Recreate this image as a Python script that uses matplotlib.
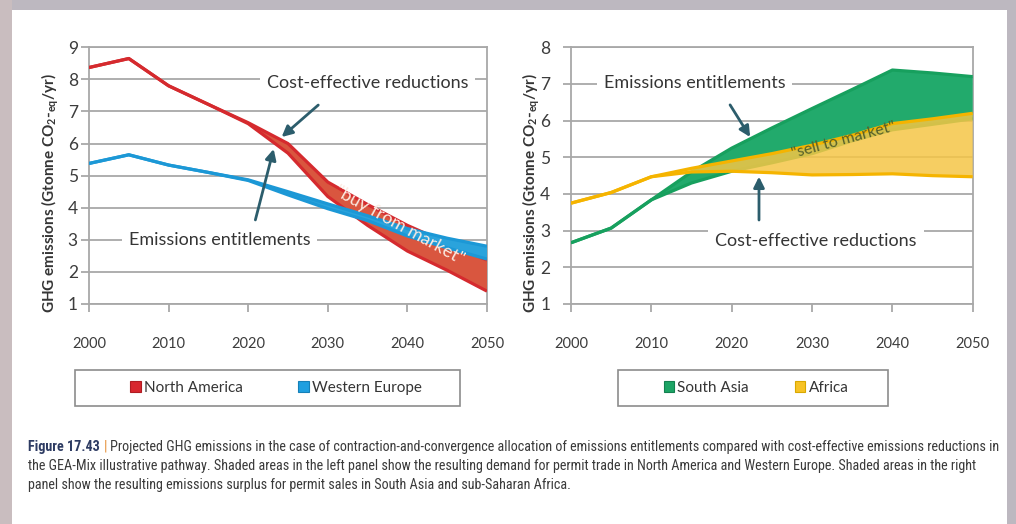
import numpy as np
import matplotlib
matplotlib.use("Agg")
import matplotlib.pyplot as plt
from matplotlib.patches import Rectangle, Patch
from matplotlib import font_manager

# ---------------------------------------------------------------- data
years = [2000, 2005, 2010, 2015, 2020, 2025, 2030, 2035, 2040, 2045, 2050]

# Left panel (Gt CO2-eq/yr): cost-effective pathway vs. entitlements
na_cost_effective = [8.37, 8.65, 7.80, 7.22, 6.65, 6.00, 4.80, 4.10, 3.45, 2.90, 2.37]
na_entitlements   = [8.37, 8.65, 7.80, 7.22, 6.62, 5.70, 4.35, 3.45, 2.65, 2.05, 1.40]
we_cost_effective = [5.38, 5.65, 5.33, 5.10, 4.87, 4.50, 4.12, 3.75, 3.35, 3.05, 2.80]
we_entitlements   = [5.38, 5.65, 5.33, 5.10, 4.85, 4.40, 3.97, 3.60, 3.12, 2.75, 2.40]

# Right panel: entitlements vs. cost-effective pathway
sa_entitlements   = [2.67, 3.07, 3.84, 4.60, 5.25, 5.80, 6.33, 6.85, 7.38, 7.30, 7.20]
sa_cost_effective = [2.67, 3.07, 3.84, 4.30, 4.62, 4.85, 5.10, 5.45, 5.75, 5.90, 6.05]
af_entitlements   = [3.75, 4.04, 4.47, 4.70, 4.90, 5.10, 5.33, 5.60, 5.92, 6.05, 6.20]
af_cost_effective = [3.75, 4.04, 4.47, 4.60, 4.62, 4.58, 4.52, 4.53, 4.55, 4.50, 4.47]

x_ticks = [2000, 2010, 2020, 2030, 2040, 2050]
left_y_ticks = [1, 2, 3, 4, 5, 6, 7, 8, 9]
right_y_ticks = [1, 2, 3, 4, 5, 6, 7, 8]

left_regions = ["North America", "Western Europe"]
right_regions = ["South Asia", "Africa"]

y_label = r"GHG emissions (Gtonne CO$_\mathbf{2}$-$_\mathbf{eq}$/yr)"
caption_head = "Figure 17.43"
caption_bar = "|"
caption_line1 = ("Projected GHG emissions in the case of contraction-and-convergence allocation "
                 "of emissions entitlements compared with cost-effective emissions reductions in")
caption_line2 = ("the GEA-Mix illustrative pathway. Shaded areas in the left panel show the resulting "
                 "demand for permit trade in North America and Western Europe. Shaded areas in the right")
caption_line3 = ("panel show the resulting emissions surplus for permit sales in South Asia "
                 "and sub-Saharan Africa.")

# ---------------------------------------------------------------- style
plt.rcParams["font.family"] = ["Lato", "DejaVu Sans"]
plt.rcParams["mathtext.fontset"] = "custom"
plt.rcParams["mathtext.rm"] = "Lato"
plt.rcParams["mathtext.bf"] = "Lato:bold"
plt.rcParams["mathtext.it"] = "Lato:italic"

RED_LINE, RED_FILL = "#d52a2e", "#d9563f"
BLUE_LINE, BLUE_FILL = "#1c98d6", "#2aa3dc"
GREEN_LINE, GREEN_FILL = "#17a05e", "#22aa6c"
YELLOW_LINE, YELLOW_FILL = "#f5b400", "#f5c646"
GRID = "#a8a8a8"
TEXT = "#353535"
ARROW = "#2c5d6c"

W, H = 1016, 524
fig = plt.figure(figsize=(W / 100, H / 100), dpi=100, facecolor="#bdb8c0")
# page background with a soft edge strip on the left
fig.patches.append(Rectangle((0, 0), 12 / W, 1, transform=fig.transFigure,
                             facecolor="#c9bdbf", edgecolor="none", zorder=-3))
fig.patches.append(Rectangle((12 / W, 0), (1007 - 12) / W, (H - 10) / H,
                             transform=fig.transFigure, facecolor="white",
                             edgecolor="none", zorder=-3))


def px_axes(x0, x1, y0, y1):
    return fig.add_axes([x0 / W, (H - y1) / H, (x1 - x0) / W, (y1 - y0) / H])


def style_axes(ax, yticks, ypad):
    ax.set_xlim(2000, 2050)
    ax.set_ylim(yticks[0], yticks[-1])
    ax.set_xticks(x_ticks)
    ax.set_yticks(yticks)
    ax.patch.set_visible(False)
    ax.grid(axis="y", color=GRID, lw=1.3, zorder=0)
    ax.set_axisbelow(True)
    for s in ax.spines.values():
        s.set_color(GRID)
        s.set_linewidth(1.3)
        s.set_zorder(0.5)
    ax.tick_params(axis="x", length=6, width=1.3, color=GRID, pad=18,
                   labelsize=10.5, labelcolor="#3c3c3c")
    ax.tick_params(axis="y", length=6, width=1.3, color=GRID, pad=ypad,
                   labelsize=12.5, labelcolor="#3c3c3c")


def band(ax, upper, lower, fill, line, alpha=1.0, z=2):
    ax.fill_between(years, lower, upper, facecolor=fill, edgecolor="none",
                    alpha=alpha, zorder=z)
    for series in (upper, lower):
        ax.plot(years, series, color=line, lw=2.3, zorder=z + 0.1,
                solid_joinstyle="round", solid_capstyle="butt")


def label(ax, x, y, s):
    ax.text(x, y, s, ha="center", va="center", fontsize=13, color=TEXT, zorder=6,
            bbox=dict(facecolor="white", edgecolor="none", pad=5))


def arrow(ax, tail, tip):
    ax.annotate("", xy=tip, xytext=tail, zorder=7,
                arrowprops=dict(arrowstyle="-|>", color=ARROW, lw=2.0,
                                mutation_scale=16, shrinkA=0, shrinkB=0))


# ---------------------------------------------------------------- left panel
axl = px_axes(89, 487, 47.3, 304)
style_axes(axl, left_y_ticks, 2)
band(axl, na_cost_effective, na_entitlements, RED_FILL, RED_LINE, z=2)
band(axl, we_cost_effective, we_entitlements, BLUE_FILL, BLUE_LINE, z=3)

label(axl, 2035.0, 7.88, "Cost-effective reductions")
label(axl, 2016.4, 3.0, "Emissions entitlements")
arrow(axl, (2028.8, 7.2), (2024.2, np.interp(2024.2, years, na_cost_effective) + 0.1))
arrow(axl, (2020.9, 3.62), (2023.2, np.interp(2023.2, years, na_entitlements) - 0.2))
axl.text(2039.0, 3.47, "\"buy from market\"", rotation=-29, rotation_mode="anchor",
         ha="center", va="center", fontsize=13, color="#fbebe2", zorder=8)

# ---------------------------------------------------------------- right panel
axr = px_axes(571, 972.7, 47.3, 304)
style_axes(axr, right_y_ticks, 9)
band(axr, sa_entitlements, sa_cost_effective, GREEN_FILL, GREEN_LINE, z=2)
band(axr, af_entitlements, af_cost_effective, YELLOW_FILL, YELLOW_LINE, alpha=0.85, z=3)

label(axr, 2015.4, 7.02, "Emissions entitlements")
label(axr, 2030.5, 2.73, "Cost-effective reductions")
arrow(axr, (2019.8, 6.43), (2022.3, np.interp(2022.3, years, sa_entitlements) + 0.05))
arrow(axr, (2023.4, 3.29), (2023.4, np.interp(2023.4, years, af_cost_effective) - 0.12))
axr.text(2033.9, 5.47, "\"sell to market\"", rotation=15, rotation_mode="anchor",
         ha="center", va="center", fontsize=11.5, color="#55602a", zorder=8)

# axis titles
for xc in (50, 531):
    fig.text(xc / W, 1 - 193 / H, y_label, rotation=90, ha="center", va="center",
             fontsize=11, fontweight="bold", color=TEXT)

# ---------------------------------------------------------------- legends


def legend_box(x0, x1, cx, names, colors, edges, spacing):
    fig.patches.append(Rectangle((x0 / W, 1 - 406 / H), (x1 - x0) / W, 36 / H,
                                 transform=fig.transFigure, facecolor="white",
                                 edgecolor="#8c8c8c", lw=1.2, zorder=1))
    handles = [Patch(facecolor=c, edgecolor=e, lw=0.8, label=n)
               for n, c, e in zip(names, colors, edges)]
    fig.legend(handles=handles, loc="center", bbox_to_anchor=(cx / W, 1 - 388 / H),
               ncol=2, frameon=False, fontsize=11, handlelength=0.7,
               handleheight=0.7, handletextpad=0.2, columnspacing=spacing,
               labelcolor=TEXT)


legend_box(75, 460, 276, left_regions, ["#d8262e", "#1e9fe0"],
           ["#b01c22", "#1580b8"], 3.6)
legend_box(618, 888, 756, right_regions, ["#1ca465", "#f7c325"],
           ["#138050", "#d9a800"], 3.0)

# ---------------------------------------------------------------- caption


def caption_font():
    names = {f.name for f in font_manager.fontManager.ttflist}
    for n in ["Liberation Sans Narrow", "Roboto Condensed", "Open Sans Condensed",
              "Noto Sans Condensed"]:
        if n in names:
            return dict(family=n)
    for f in font_manager.fontManager.ttflist:
        if f.name == "DejaVu Sans" and f.stretch not in ("normal", 500):
            return dict(family="DejaVu Sans", stretch=f.stretch)
    return dict(family="Roboto")


cap_kw = caption_font()
cap_x = 28
cap_base = [451, 470, 489]
t_head = fig.text(cap_x / W, 1 - cap_base[0] / H, caption_head, fontweight="bold",
                  color="#2d3b62", va="baseline", **cap_kw)
t_bar = fig.text(0, 1 - cap_base[0] / H, caption_bar, color="#e48a2e",
                 va="baseline", **cap_kw)
t_rest = fig.text(0, 1 - cap_base[0] / H, caption_line1, color="#3a3a3a",
                  va="baseline", **cap_kw)
t_l2 = fig.text(cap_x / W, 1 - cap_base[1] / H, caption_line2, color="#3a3a3a",
                va="baseline", **cap_kw)
t_l3 = fig.text(cap_x / W, 1 - cap_base[2] / H, caption_line3, color="#3a3a3a",
                va="baseline", **cap_kw)
cap_texts = [t_head, t_bar, t_rest, t_l2, t_l3]

renderer = fig.canvas.get_renderer()
size = 9.0
for _ in range(4):
    for t in cap_texts:
        t.set_fontsize(size)
    gap = size * 0.35
    bb = t_head.get_window_extent(renderer)
    t_bar.set_x((bb.x1 + gap) / W)
    bb = t_bar.get_window_extent(renderer)
    t_rest.set_x((bb.x1 + gap) / W)
    right = t_rest.get_window_extent(renderer).x1
    size *= (1000 - cap_x) / (right - cap_x)

fig.savefig("out.png", dpi=100, facecolor=fig.get_facecolor())
